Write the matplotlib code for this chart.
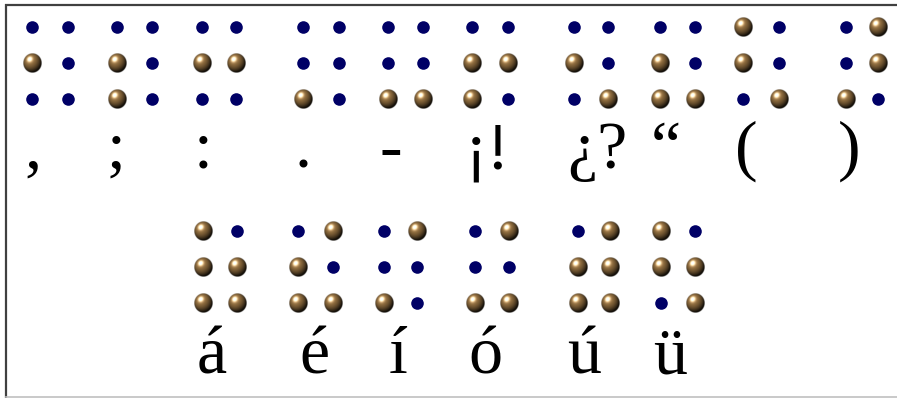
import numpy as np
import matplotlib
matplotlib.use("Agg")
import matplotlib.pyplot as plt

# braille cells: dots 1-2-3 = left column top to bottom, 4-5-6 = right column
top_labels = [",", ";", ":", ".", "-", "¡!", "¿?", "\u201c", "(", ")"]
top_dots = [[2], [2, 3], [2, 5], [3], [3, 6], [2, 3, 5], [2, 6], [2, 3, 6], [1, 2, 6], [3, 4, 5]]
bottom_labels = ["á", "é", "í", "ó", "ú", "ü"]
bottom_dots = [[1, 2, 3, 5, 6], [2, 3, 4, 6], [3, 4], [3, 4, 6], [2, 3, 4, 5, 6], [1, 2, 5, 6]]

# layout (pixels)
top_left_x = [32, 117, 202, 303, 388, 472, 574, 660, 743, 846]
top_right_x = [68, 152, 236, 339, 423, 508, 608, 695, 779, 878]
top_rows_y = [27, 63, 99]
top_label_x = [33, 116, 203, 303, 391, 487, 597, 666, 746, 849]
top_base_y = 168

bot_left_x = [203, 298, 384, 475, 578, 661]
bot_right_x = [237, 333, 417, 509, 610, 695]
bot_rows_y = [231, 267, 303]
bot_label_x = [212, 314, 398, 485, 584, 670]
bot_base_y = 373

W, H = 897, 398


def sphere_img(n=64):
    u, v = np.meshgrid(np.linspace(-1, 1, n), np.linspace(-1, 1, n))
    r = np.sqrt(u**2 + v**2)
    nz = np.sqrt(np.clip(1 - r**2, 0, 1))
    L = np.array([-0.3, -0.4, 0.86])
    L = L / np.linalg.norm(L)
    diff = np.clip(u * L[0] + v * L[1] + nz * L[2], 0, 1)
    base = np.array([0.62, 0.47, 0.27])
    img = np.zeros((n, n, 4))
    for k in range(3):
        img[..., k] = base[k] * (0.10 + 0.95 * diff**1.2)
    spec = diff**25 * 0.95
    img[..., :3] = np.clip(img[..., :3] + spec[..., None], 0, 1)
    img[..., 3] = np.clip((1 - r) * n / 3, 0, 1)
    return img


SPH = sphere_img()

fig = plt.figure(figsize=(W / 100, H / 100), dpi=100)
ax = fig.add_axes([0, 0, 1, 1])
ax.axis("off")


def draw_cell(lx, rx, rows, dots):
    for d in range(1, 7):
        x = lx if d <= 3 else rx
        y = rows[(d - 1) % 3]
        if d in dots:
            ax.imshow(SPH, extent=(x - 9.5, x + 9.5, y + 10, y - 10),
                      interpolation="bilinear", aspect="auto", zorder=3)
        else:
            ax.scatter([x], [y], s=82, color="#000066", marker="o",
                       linewidths=0, zorder=2)


for i in range(len(top_labels)):
    draw_cell(top_left_x[i], top_right_x[i], top_rows_y, top_dots[i])
    ax.text(top_label_x[i], top_base_y, top_labels[i], ha="center", va="baseline",
            fontsize=49, family="Liberation Serif", color="black")

for i in range(len(bottom_labels)):
    draw_cell(bot_left_x[i], bot_right_x[i], bot_rows_y, bottom_dots[i])
    ax.text(bot_label_x[i], bot_base_y, bottom_labels[i], ha="center", va="baseline",
            fontsize=49, family="Liberation Serif", color="black")

# frame
ax.plot([6, 6], [4, H], color="#404040", lw=1.6, solid_capstyle="butt")
ax.plot([5, W], [5, 5], color="#404040", lw=1.6, solid_capstyle="butt")
ax.plot([6, W], [396.5, 396.5], color="#c0c0c0", lw=1.2)

ax.set_xlim(0, W)
ax.set_ylim(H, 0)

fig.savefig("out.png", dpi=100, facecolor="white")
